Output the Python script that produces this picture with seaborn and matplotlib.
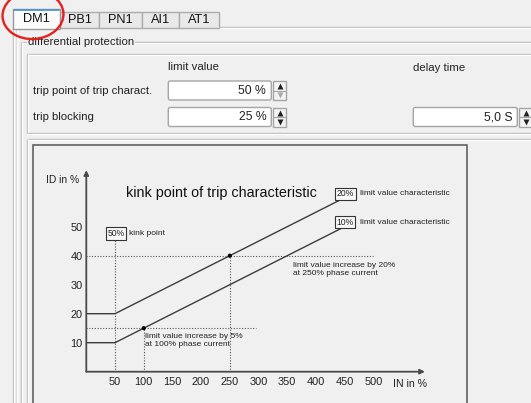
import matplotlib
matplotlib.use("Agg")
import matplotlib.pyplot as plt
import matplotlib.patches as mpatches
import seaborn as sns

# chart data
in_pct = [0, 50, 450]          # IN in %
char_20 = [20, 20, 60]         # 20% limit value characteristic
char_10 = [10, 10, 50]         # 10% limit value characteristic
marked_in = [100, 250]
marked_id = [15, 40]
x_ticks = [50, 100, 150, 200, 250, 300, 350, 400, 450, 500]
y_ticks = [10, 20, 30, 40, 50]

# dialog texts
tab_names = ["DM1", "PB1", "PN1", "AI1", "AT1"]
row_labels = ["trip point of trip charact.", "trip blocking"]
limit_values = ["50 %", "25 %"]
delay_value = "5,0 S"

BG = "#f0f0f0"
EDGE = "#b9b9b9"
DARK = "#3c3c3c"
UI_FONT = 8.2

sns.set_theme(style="white")
plt.rcParams["font.family"] = ["Liberation Sans", "DejaVu Sans"]

fig = plt.figure(figsize=(5.31, 4.03), dpi=100, facecolor=BG)

# --- dialog frame drawn in pixel coordinates ---
ui = fig.add_axes([0, 0, 1, 1], zorder=0)
ui.set_xlim(0, 531)
ui.set_ylim(403, 0)
ui.axis("off")
ui.set_facecolor(BG)


def hline(y, x0, x1, color=EDGE):
    ui.plot([x0, x1], [y, y], color=color, lw=1, solid_capstyle="butt")
    ui.plot([x0, x1], [y + 1, y + 1], color="white", lw=1, solid_capstyle="butt")


def vline(x, y0, y1, color=EDGE):
    ui.plot([x, x], [y0, y1], color=color, lw=1, solid_capstyle="butt")
    ui.plot([x + 1, x + 1], [y0, y1], color="white", lw=1, solid_capstyle="butt")


def spinbox(x, y, w, text, grey_down=False):
    ui.add_patch(mpatches.FancyBboxPatch((x, y), w, 19, boxstyle="round,pad=0,rounding_size=2",
                                         fc="white", ec="#a5a5a5", lw=1))
    ui.text(x + w - 5, y + 10, text, ha="right", va="center", fontsize=UI_FONT + 0.6, color="#222")
    bx = x + w + 2
    ui.add_patch(mpatches.Rectangle((bx, y), 13, 19, fc="#f4f4f4", ec="#a5a5a5", lw=1))
    ui.plot([bx, bx + 13], [y + 9.5, y + 9.5], color="#a5a5a5", lw=0.8)
    ui.plot(bx + 6.5, y + 5, marker="^", ms=4, color="#222", mec="none")
    ui.plot(bx + 6.5, y + 14, marker="v", ms=4, color="#aaa" if grey_down else "#222", mec="none")


# tab control body
hline(27.3, 13, 531)
vline(12.7, 27.3, 403)
vline(15.7, 30, 403, color="#d4d4d4")

# tabs
tab_edges = [13, 60, 99, 142, 179, 219]
for i, name in enumerate(tab_names):
    x0, x1 = tab_edges[i], tab_edges[i + 1]
    if i == 0:
        ui.add_patch(mpatches.Rectangle((x0, 9), x1 - x0, 19.5, fc="#fbfbfb", ec="#9a9a9a", lw=1, zorder=3))
        ui.plot([x0 + 1, x1 - 1], [10, 10], color="#4a90d0", lw=1.2, zorder=4)
        ui.text((x0 + x1) / 2, 19, name, ha="center", va="center", fontsize=9.2, color="#111", zorder=4)
    else:
        ui.add_patch(mpatches.Rectangle((x0, 11.5), x1 - x0, 16, fc="#e9e9e9", ec="#acacac", lw=1, zorder=2))
        ui.text((x0 + x1) / 2, 20, name, ha="center", va="center", fontsize=9.2, color="#111", zorder=3)

# group box "differential protection"
hline(41.7, 21, 531)
vline(20.7, 41.7, 403)
ui.text(28, 42, "differential protection", ha="left", va="center", fontsize=UI_FONT, color="#222",
        bbox=dict(boxstyle="square,pad=0.1", fc=BG, ec="none"))

# upper settings panel
hline(54.3, 27, 531)
vline(26.7, 54.3, 132.7)
hline(132.7, 27, 531)
ui.text(168, 67.5, "limit value", ha="left", va="center", fontsize=UI_FONT, color="#222")
ui.text(413, 68, "delay time", ha="left", va="center", fontsize=UI_FONT, color="#222")
ui.text(33, 90.5, row_labels[0], ha="left", va="center", fontsize=UI_FONT, color="#222")
ui.text(33, 117.5, row_labels[1], ha="left", va="center", fontsize=UI_FONT, color="#222")
spinbox(168.3, 81, 103, limit_values[0], grey_down=True)
spinbox(168.3, 107.5, 103, limit_values[1])
spinbox(413.3, 107.5, 104, delay_value)

# chart panel
hline(139.3, 27, 531)
vline(26.7, 139.3, 403)
ui.add_patch(mpatches.Rectangle((33.3, 145), 434, 270, fc=BG, ec="#555555", lw=1.1))

# red marking round the DM1 tab
ui.add_patch(mpatches.Ellipse((33, 15), 61, 48, angle=-4, fill=False, ec="#e3211f", lw=1.7, zorder=6,
                              clip_on=False))

# --- the characteristic chart ---
ax = fig.add_axes([86.3 / 531, (403 - 371.7) / 403, 344.4 / 531, 208.8 / 403], zorder=1)
ax.set_facecolor("none")
ax.set_xlim(0, 600)
ax.set_ylim(0, 72)
for s in ax.spines.values():
    s.set_visible(False)

dot = dict(color="#555555", lw=0.8, ls=(0, (1, 1.5)))
ax.plot([50, 50], [0, 45.5], **dot)
ax.plot([100, 100], [0, 15], **dot)
ax.plot([250, 250], [0, 40], **dot)
ax.plot([0, 295], [15, 15], **dot)
ax.plot([0, 500], [40, 40], **dot)

sns.lineplot(x=in_pct, y=char_20, ax=ax, color=DARK, lw=1.0, estimator=None, sort=False)
sns.lineplot(x=in_pct, y=char_10, ax=ax, color=DARK, lw=1.0, estimator=None, sort=False)
sns.scatterplot(x=marked_in, y=marked_id, ax=ax, color="black", s=9, edgecolor="none", zorder=5)

arrow = dict(arrowstyle="-|>", color="#4a4a4a", lw=1.3, mutation_scale=7, shrinkA=0, shrinkB=0)
ax.annotate("", xy=(0, 69.5), xytext=(0, 0), arrowprops=arrow, annotation_clip=False)
ax.annotate("", xy=(590, 0), xytext=(0, 0), arrowprops=arrow, annotation_clip=False)

ax.set_xticks(x_ticks)
ax.set_yticks(y_ticks)
ax.tick_params(axis="x", length=0, pad=4, labelsize=7.9, labelcolor="#222")
ax.tick_params(axis="y", length=0, pad=2.5, labelsize=7.9, labelcolor="#222")
ax.set_xlabel("")
ax.set_ylabel("")

ax.text(-42, 66.1, "ID in %", ha="center", va="center", fontsize=7.4, color="#222", clip_on=False)
ax.text(564, -4.3, "IN in %", ha="center", va="center", fontsize=7.6, color="#222", clip_on=False)
ax.text(236, 61.6, "kink point of trip characteristic", ha="center", va="center", fontsize=10.4, color="#111")

box = dict(boxstyle="square,pad=0.2", fc="#f8f8f8", ec="#333333", lw=0.8)
small = 6
ax.text(51.7, 47.6, "50%", ha="center", va="center", fontsize=6.2, color="#222", bbox=box)
ax.text(74, 47.6, "kink point", ha="left", va="center", fontsize=small, color="#222")
ax.text(451, 61.3, "20%", ha="center", va="center", fontsize=6.2, color="#222", bbox=box)
ax.text(476, 61.3, "limit value characteristic", ha="left", va="center", fontsize=small, color="#222")
ax.text(451, 51.6, "10%", ha="center", va="center", fontsize=6.2, color="#222", bbox=box)
ax.text(476, 51.6, "limit value characteristic", ha="left", va="center", fontsize=small, color="#222")
ax.text(360, 35.3, "limit value increase by 20%\nat 250% phase current", ha="left", va="center",
        fontsize=small, color="#222", linespacing=1.15)
ax.text(102.5, 10.8, "limit value increase by 5%\nat 100% phase current", ha="left", va="center",
        fontsize=small, color="#222", linespacing=1.15)

fig.savefig("out.png", dpi=100, facecolor=BG)
